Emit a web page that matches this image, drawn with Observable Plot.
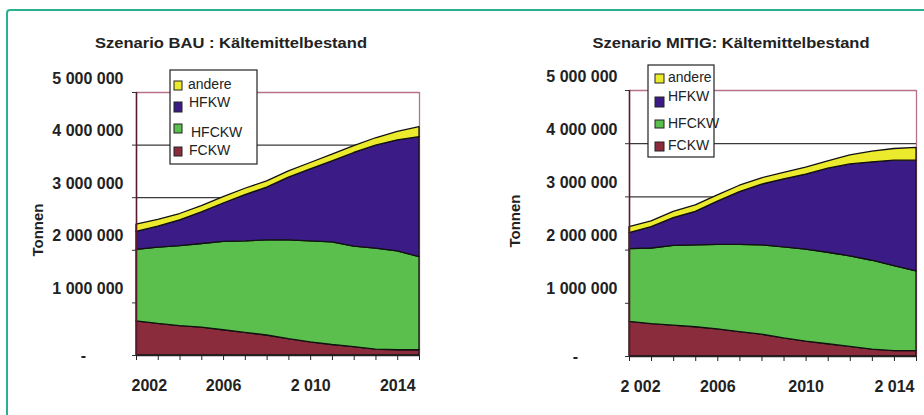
<!DOCTYPE html>
<html>
<head>
<meta charset="utf-8">
<script src="https://cdn.jsdelivr.net/npm/d3@7"></script>
<script src="https://cdn.jsdelivr.net/npm/@observablehq/plot@0.6"></script>
<style>
  html, body { margin: 0; padding: 0; background: #fff; overflow: hidden; }
  #wrap { position: relative; width: 924px; height: 415px; overflow: hidden; font-family: "Liberation Sans", Arial, sans-serif; }
  #frame { position: absolute; left: 6px; top: 9px; width: 1000px; height: 1000px; border: 2px solid #2bb18f; border-radius: 4px; box-sizing: border-box; }
  .chart { position: absolute; top: 0; }
  #overlay { position: absolute; left: 0; top: 0; pointer-events: none; }
</style>
</head>
<body>
<div id="wrap">
  <div id="frame"></div>
  <div id="left" class="chart" style="left:0px"></div>
  <div id="right" class="chart" style="left:462px"></div>
</div>
<script>
// ---- data (tonnes) ----
const years = [2002, 2003, 2004, 2005, 2006, 2007, 2008, 2009, 2010, 2011, 2012, 2013, 2014, 2015];
const types = ["FCKW", "HFCKW", "HFKW", "andere"];
const legendOrder = ["andere", "HFKW", "HFCKW", "FCKW"];
const typeColors = ["#8a2c3c", "#5bbf4e", "#3b1c87", "#ecea2c"];

const bauFCKW   = [650000, 600000, 560000, 530000, 480000, 430000, 380000, 310000, 250000, 200000, 160000, 110000, 100000, 100000];
const bauHFCKW  = [1360000, 1450000, 1520000, 1590000, 1680000, 1740000, 1810000, 1880000, 1920000, 1950000, 1910000, 1920000, 1880000, 1770000];
const bauHFKW   = [340000, 400000, 490000, 600000, 730000, 880000, 1000000, 1190000, 1370000, 1540000, 1780000, 1960000, 2110000, 2280000];
const bauAndere = [140000, 130000, 120000, 120000, 120000, 120000, 120000, 120000, 120000, 130000, 130000, 140000, 160000, 190000];

const mitFCKW   = [650000, 610000, 580000, 550000, 510000, 460000, 410000, 340000, 280000, 230000, 180000, 130000, 100000, 100000];
const mitHFCKW  = [1370000, 1420000, 1500000, 1540000, 1590000, 1640000, 1680000, 1710000, 1730000, 1720000, 1700000, 1670000, 1600000, 1500000];
const mitHFKW   = [300000, 400000, 520000, 630000, 810000, 990000, 1140000, 1280000, 1410000, 1580000, 1730000, 1850000, 1980000, 2080000];
const mitAndere = [110000, 110000, 120000, 120000, 120000, 120000, 120000, 120000, 130000, 140000, 170000, 200000, 220000, 240000];

const yTicks = [0, 1000000, 2000000, 3000000, 4000000, 5000000];
const gridDark = [3000000, 4000000];
const gridTop = [5000000];
const bauXLabels = [["2002", 2002], ["2006", 2006], ["2 010", 2010], ["2014", 2014]];
const mitXLabels = [["2 002", 2002], ["2006", 2006], ["2010", 2010], ["2 014", 2014]];

const titles = ["Szenario BAU : Kältemittelbestand", "Szenario MITIG: Kältemittelbestand"];
const yTitle = "Tonnen";

function toLong(fckw, hfckw, hfkw, andere) {
  const cols = {FCKW: fckw, HFCKW: hfckw, HFKW: hfkw, andere: andere};
  const out = [];
  years.forEach((yr, i) => types.forEach(t => out.push({year: yr, type: t, value: cols[t][i]})));
  return out;
}

const fmt = d => d3.format(",")(d).replace(/,/g, " ");
const font = "Liberation Sans, Arial, sans-serif";

function chart(data, xLabels, cfg) {
  const x0 = years[0], x1 = years[years.length - 1];
  return Plot.plot({
    width: 462, height: 415,
    marginLeft: cfg.ml, marginRight: cfg.mr, marginTop: cfg.mt, marginBottom: cfg.mb,
    style: {fontFamily: font, background: "transparent", overflow: "visible"},
    x: {domain: [x0, x1], label: null},
    y: {domain: [0, 5000000], label: null},
    color: {domain: types, range: typeColors},
    marks: [
      Plot.ruleY(gridDark, {stroke: "#3a3a3a", strokeWidth: 1.2}),
      Plot.ruleY(gridTop, {stroke: "#b9708c", strokeWidth: 1.3}),
      Plot.ruleX([x1], {y1: 0, y2: 5000000, stroke: "#b9708c", strokeWidth: 1.3}),
      Plot.areaY(data, {x: "year", y: "value", fill: "type", order: types, stroke: "#111", strokeWidth: 1.3, strokeLinejoin: "round"}),
      Plot.ruleX([x0], {y1: 0, y2: 5000000, stroke: "#5a1a2a", strokeWidth: 1.6}),
      Plot.ruleY([0], {stroke: "#222", strokeWidth: 1.6}),
      Plot.axisY({ticks: yTicks, tickSize: 4, tickFormat: () => "", label: null, stroke: "#333"}),
      Plot.axisX({ticks: years, tickSize: 5, tickFormat: () => "", label: null, stroke: "#222"}),
      Plot.text(yTicks.filter(d => d > 0), {x: x0, y: d => d, text: fmt, textAnchor: "end", dx: cfg.ydx, dy: -14, fontWeight: "bold", fontSize: 16, fill: "#222"}),
      Plot.text([0], {x: x0, y: 0, text: () => "-", textAnchor: "middle", dx: cfg.zdx, dy: 0, fontWeight: "bold", fontSize: 16, fill: "#222"}),
      Plot.text(xLabels.slice(0, 1), {x: d => d[1], y: 0, text: d => d[0], textAnchor: "start", dx: cfg.fdx, dy: 30, fontWeight: "bold", fontSize: 16, fill: "#222"}),
      Plot.text(xLabels.slice(1), {x: d => d[1], y: 0, text: d => d[0], textAnchor: "middle", dy: 30, fontWeight: "bold", fontSize: 16, fill: "#222"})
    ]
  });
}

document.getElementById("left").appendChild(
  chart(toLong(bauFCKW, bauHFCKW, bauHFKW, bauAndere), bauXLabels, {ml: 136, mr: 43, mt: 92, mb: 60, ydx: -13, zdx: -53, fdx: -5})
);
document.getElementById("right").appendChild(
  chart(toLong(mitFCKW, mitHFCKW, mitHFKW, mitAndere), mitXLabels, {ml: 167, mr: 8, mt: 90, mb: 59, ydx: -12, zdx: -54, fdx: -9})
);

// ---- overlay: titles, axis titles, legends ----
const ov = d3.select("#wrap").append("svg").attr("id", "overlay").attr("width", 924).attr("height", 415);
const colorOf = t => typeColors[types.indexOf(t)];

const panels = [
  {title: titles[0], tx: 231, tw: 272, yt: [38, 230],
   box: [170, 70, 87, 94], sw: [[174, 81, 8, 9], [174, 102, 8, 10], [174, 124, 8, 9], [174, 147, 8, 9]],
   txt: [[188, 89], [189, 107], [191, 137], [189, 155]]},
  {title: titles[1], tx: 731, tw: 277, yt: [515, 221],
   box: [648, 65, 66, 92], sw: [[655, 74, 9, 9], [655, 97, 9, 10], [655, 120, 9, 8], [655, 142, 9, 9]],
   txt: [[668, 82], [668, 101], [668, 128], [668, 150]]}
];

panels.forEach(p => {
  ov.append("text").attr("x", p.tx).attr("y", 48).attr("text-anchor", "middle")
    .attr("font-family", font).attr("font-weight", "bold").attr("font-size", 15).attr("fill", "#222")
    .attr("textLength", p.tw).attr("lengthAdjust", "spacingAndGlyphs").text(p.title);
  ov.append("text").attr("transform", `translate(${p.yt[0]},${p.yt[1]}) rotate(-90)`).attr("text-anchor", "middle")
    .attr("dy", "0.35em").attr("font-family", font).attr("font-weight", "bold").attr("font-size", 15).attr("fill", "#222").text(yTitle);
  ov.append("rect").attr("x", p.box[0]).attr("y", p.box[1]).attr("width", p.box[2]).attr("height", p.box[3])
    .attr("fill", "#fff").attr("stroke", "#222").attr("stroke-width", 1.2);
  legendOrder.forEach((t, i) => {
    const s = p.sw[i];
    ov.append("rect").attr("x", s[0]).attr("y", s[1]).attr("width", s[2]).attr("height", s[3])
      .attr("fill", colorOf(t)).attr("stroke", "#222").attr("stroke-width", 1);
    ov.append("text").attr("x", p.txt[i][0]).attr("y", p.txt[i][1]).attr("font-family", font)
      .attr("font-size", 14).attr("fill", "#222").text(t);
  });
});
</script>
</body>
</html>
